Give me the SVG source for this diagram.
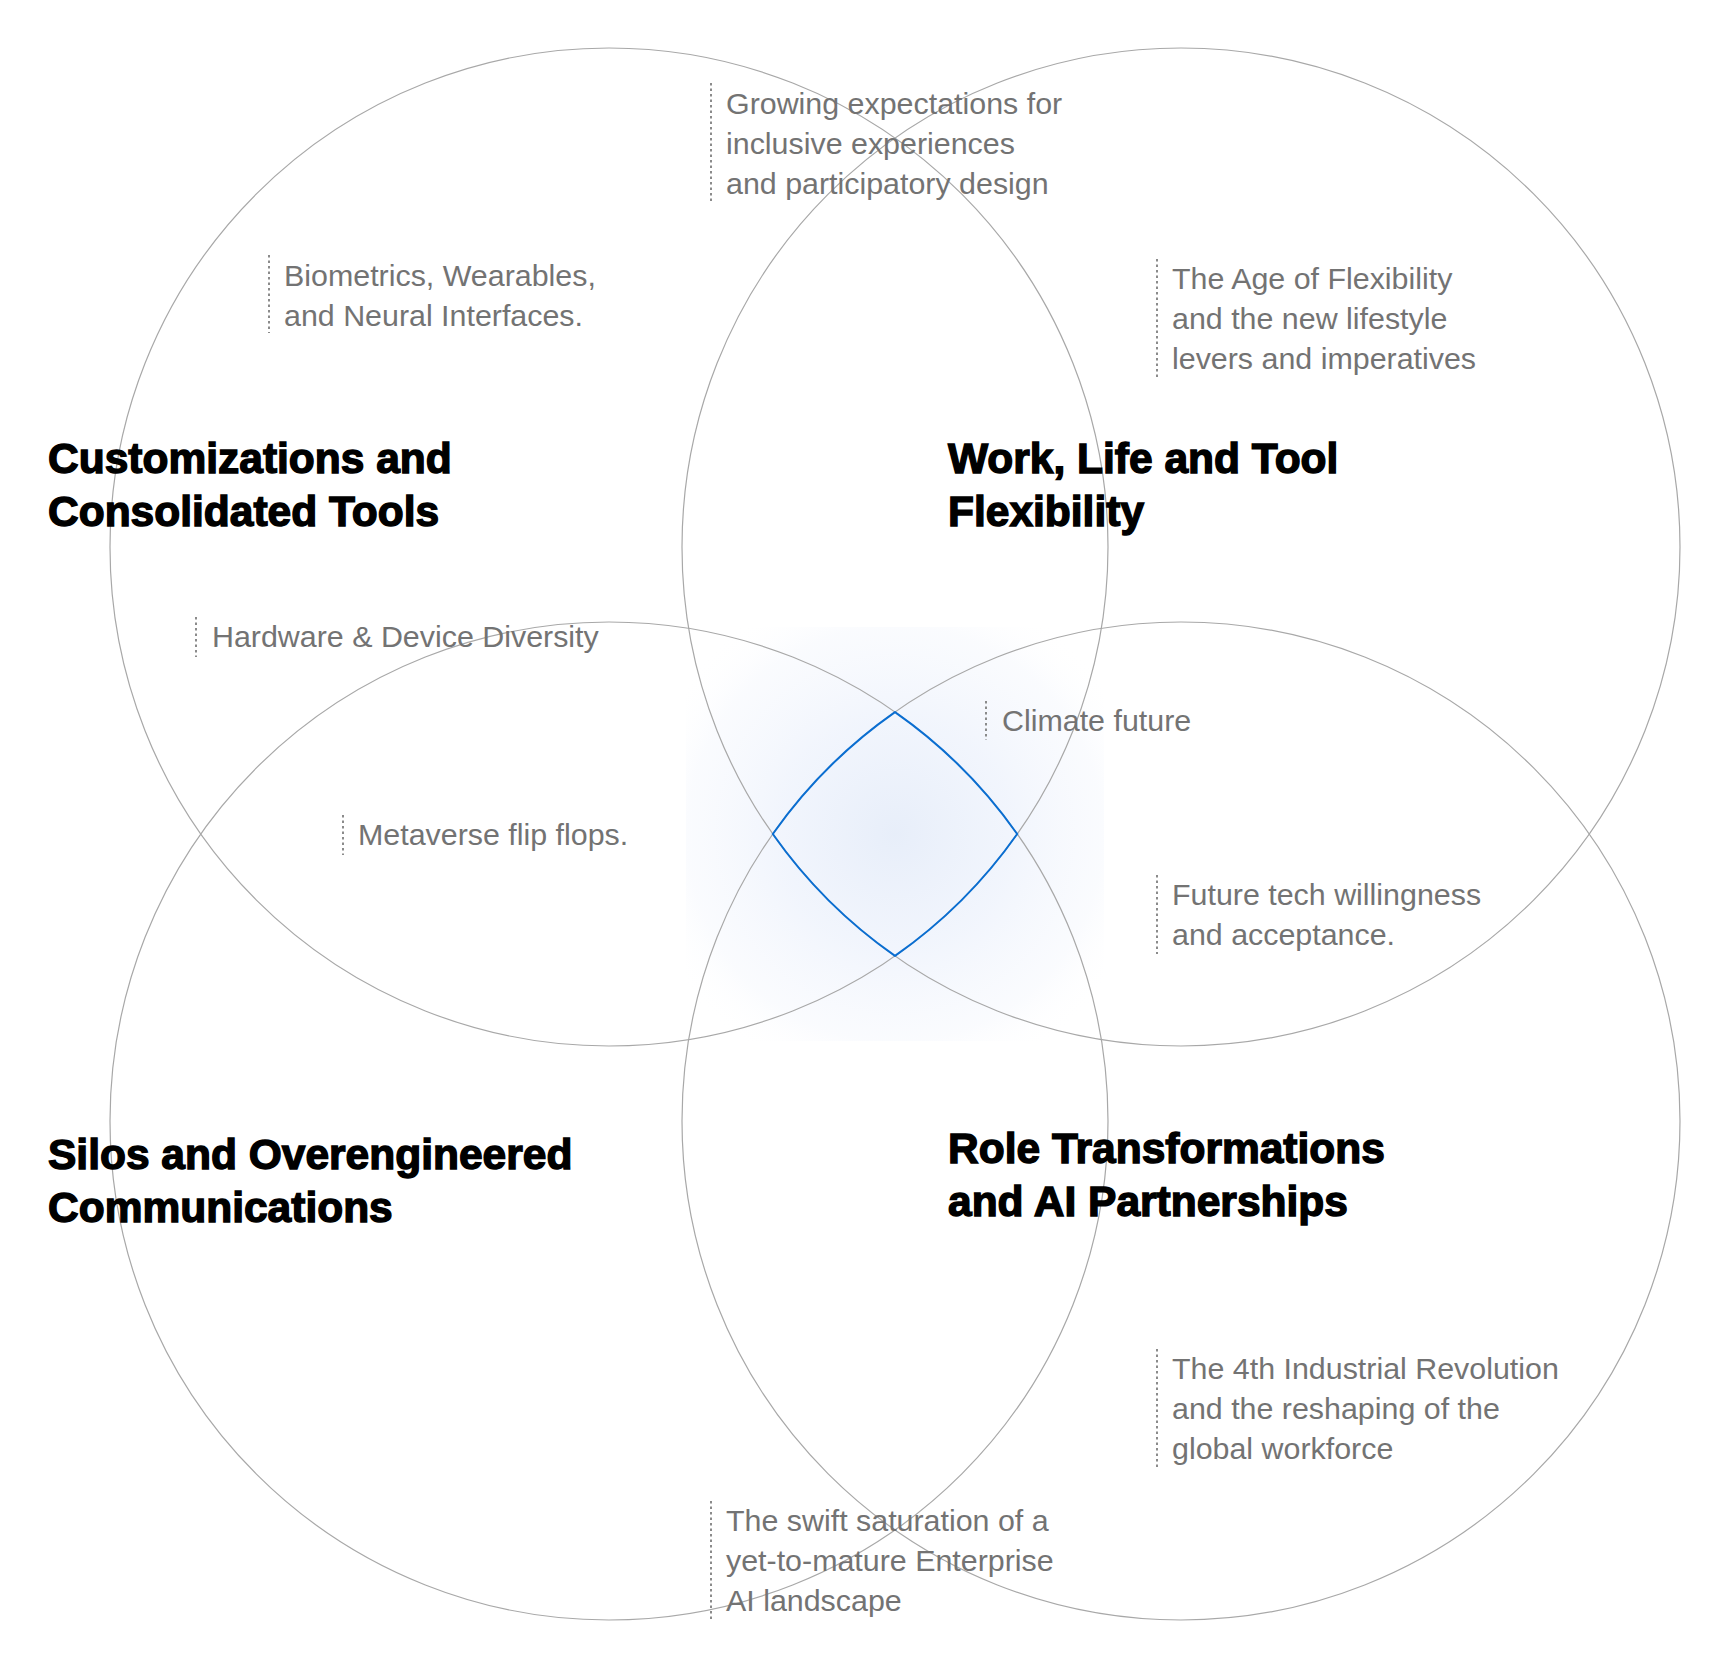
<svg xmlns="http://www.w3.org/2000/svg" width="1728" height="1668" viewBox="0 0 1728 1668">
  <defs>
    <radialGradient id="glow" gradientUnits="userSpaceOnUse" cx="895" cy="834" r="260">
      <stop offset="0" stop-color="#e6edf9" stop-opacity="0.95"/>
      <stop offset="0.45" stop-color="#edf2fc" stop-opacity="0.75"/>
      <stop offset="0.8" stop-color="#f4f7fd" stop-opacity="0.45"/>
      <stop offset="1" stop-color="#ffffff" stop-opacity="0"/>
    </radialGradient>
    <style>
      .ring { fill: none; stroke: #a8a8a8; stroke-width: 1.2; }
      .head { font-family: "Liberation Sans", Arial, sans-serif; font-weight: 700; font-size: 42.5px; fill: #000; stroke: #000; stroke-width: 1.4; paint-order: stroke; }
      .lbl { font-family: "Liberation Sans", Arial, sans-serif; font-size: 30.4px; fill: #737373; }
      .tick { stroke: #7f7f7f; stroke-width: 1.8; stroke-dasharray: 2.5 3; fill: none; }
      .core { fill: none; stroke: #0a6ed1; stroke-width: 2; }
    </style>
  </defs>
  <rect width="1728" height="1668" fill="#ffffff"/>
  <rect id="glow-area" x="686" y="627" width="418" height="414" fill="url(#glow)"/>

  <g id="node-customizations">
    <circle class="ring" cx="609" cy="547" r="499"/>
    <text class="head"><tspan x="48" y="473">Customizations and</tspan><tspan x="48" y="526">Consolidated Tools</tspan></text>
  </g>
  <g id="node-flexibility">
    <circle class="ring" cx="1181" cy="547" r="499"/>
    <text class="head"><tspan x="948" y="473">Work, Life and Tool</tspan><tspan x="948" y="526">Flexibility</tspan></text>
  </g>
  <g id="node-silos">
    <circle class="ring" cx="609" cy="1121" r="499"/>
    <text class="head"><tspan x="48" y="1169">Silos and Overengineered</tspan><tspan x="48" y="1222">Communications</tspan></text>
  </g>
  <g id="node-roles">
    <circle class="ring" cx="1181" cy="1121" r="499"/>
    <text class="head"><tspan x="948" y="1163">Role Transformations</tspan><tspan x="948" y="1216">and AI Partnerships</tspan></text>
  </g>

  <g id="node-core">
    <path class="core" d="M 895 712.1 A 499 499 0 0 1 1017.2 834 A 499 499 0 0 1 895 955.9 A 499 499 0 0 1 772.8 834 A 499 499 0 0 1 895 712.1 Z"/>
  </g>

  <g id="label-growing">
    <line class="tick" x1="711" y1="83" x2="711" y2="202"/>
    <text class="lbl"><tspan x="726" y="114">Growing expectations for</tspan><tspan x="726" y="154">inclusive experiences</tspan><tspan x="726" y="194">and participatory design</tspan></text>
  </g>
  <g id="label-biometrics">
    <line class="tick" x1="269" y1="255" x2="269" y2="333"/>
    <text class="lbl"><tspan x="284" y="286">Biometrics, Wearables,</tspan><tspan x="284" y="326">and Neural Interfaces.</tspan></text>
  </g>
  <g id="label-age">
    <line class="tick" x1="1157" y1="259" x2="1157" y2="378"/>
    <text class="lbl"><tspan x="1172" y="289">The Age of Flexibility</tspan><tspan x="1172" y="329">and the new lifestyle</tspan><tspan x="1172" y="369">levers and imperatives</tspan></text>
  </g>
  <g id="label-hardware">
    <line class="tick" x1="196" y1="617" x2="196" y2="657"/>
    <text class="lbl" x="212" y="647">Hardware &amp; Device Diversity</text>
  </g>
  <g id="label-metaverse">
    <line class="tick" x1="343" y1="815" x2="343" y2="855"/>
    <text class="lbl" x="358" y="845">Metaverse flip flops.</text>
  </g>
  <g id="label-climate">
    <line class="tick" x1="986" y1="701" x2="986" y2="740"/>
    <text class="lbl" x="1002" y="731">Climate future</text>
  </g>
  <g id="label-future-tech">
    <line class="tick" x1="1157" y1="875" x2="1157" y2="954"/>
    <text class="lbl"><tspan x="1172" y="905">Future tech willingness</tspan><tspan x="1172" y="945">and acceptance.</tspan></text>
  </g>
  <g id="label-industrial">
    <line class="tick" x1="1157" y1="1349" x2="1157" y2="1468"/>
    <text class="lbl"><tspan x="1172" y="1379">The 4th Industrial Revolution</tspan><tspan x="1172" y="1419">and the reshaping of the</tspan><tspan x="1172" y="1459">global workforce</tspan></text>
  </g>
  <g id="label-saturation">
    <line class="tick" x1="711" y1="1501" x2="711" y2="1620"/>
    <text class="lbl"><tspan x="726" y="1531">The swift saturation of a</tspan><tspan x="726" y="1571">yet-to-mature Enterprise</tspan><tspan x="726" y="1611">AI landscape</tspan></text>
  </g>
</svg>
